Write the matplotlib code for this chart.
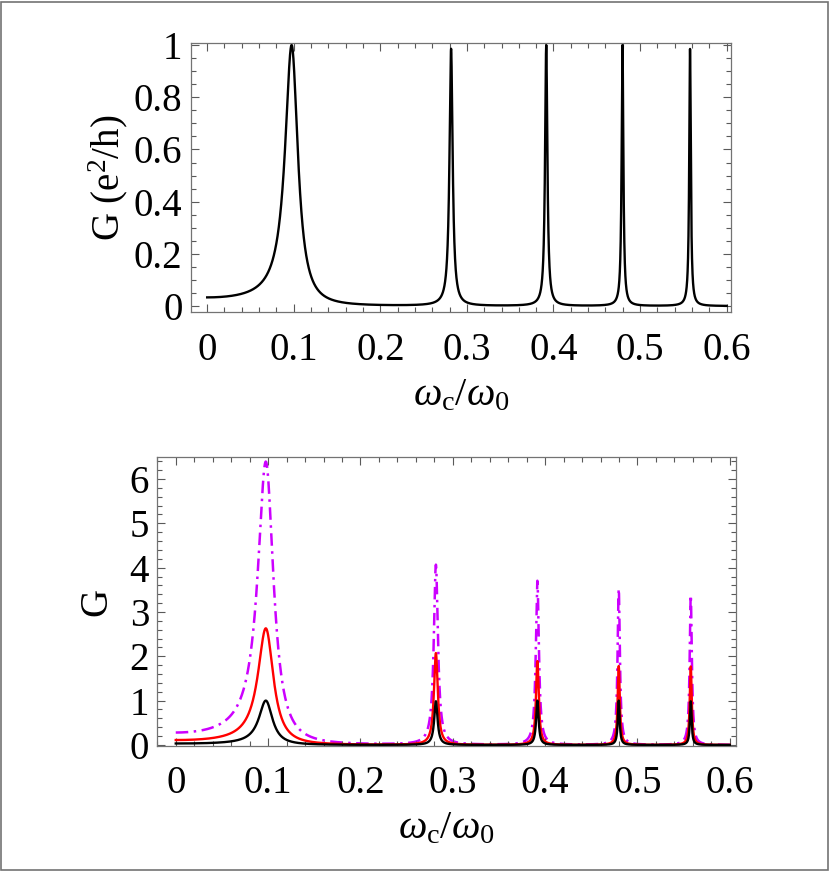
import numpy as np
import matplotlib
matplotlib.use("Agg")
import matplotlib.pyplot as plt
from matplotlib.ticker import MultipleLocator
from matplotlib.patches import Rectangle

plt.rcParams['font.family'] = ['Liberation Serif', 'DejaVu Serif']
plt.rcParams['mathtext.fontset'] = 'custom'
plt.rcParams['mathtext.rm'] = 'Liberation Serif'
plt.rcParams['mathtext.it'] = 'Liberation Serif:italic'

# ---- data ----
peak_centers = [0.0975, 0.2817, 0.3916, 0.4797, 0.5577]   # omega_c / omega_0
black_heights = [1.00, 0.985, 1.00, 1.00, 0.985]
black_widths = [0.0090, 0.0022, 0.0016, 0.0012, 0.0011]
red_heights = [2.63, 2.07, 1.89, 1.78, 1.77]
red_widths = [0.0102, 0.0025, 0.0018, 0.0014, 0.0013]
magenta_heights = [6.39, 4.06, 3.70, 3.52, 3.38]
magenta_widths = [0.0104, 0.0027, 0.0020, 0.0015, 0.0014]

x_ticks = [0, 0.1, 0.2, 0.3, 0.4, 0.5, 0.6]
top_y_ticks = [0, 0.2, 0.4, 0.6, 0.8, 1]
bot_y_ticks = [0, 1, 2, 3, 4, 5, 6]

x = np.linspace(0.0, 0.6, 6001)


def resonances(xv, centers, heights, widths):
    u = xv ** 2
    total = np.zeros_like(xv)
    for c, h, w in zip(centers, heights, widths):
        gu = 2 * c * w
        total += h * gu ** 2 / ((u - c ** 2) ** 2 + gu ** 2)
    return total


g_black = resonances(x, peak_centers, black_heights, black_widths)
g_red = resonances(x, peak_centers, red_heights, red_widths)
g_mag = resonances(x, peak_centers, magenta_heights, magenta_widths)

fig = plt.figure(figsize=(8.30, 8.71), dpi=100)
fig.patches.append(Rectangle((0.001, 0.001), 0.997, 0.997, transform=fig.transFigure,
                             fill=False, edgecolor='0.45', linewidth=1.2))

ax1 = fig.add_axes([0.2298, 0.6414, 0.6509, 0.3095])
ax2 = fig.add_axes([0.1895, 0.1439, 0.6976, 0.3311])

ax1.plot(x, g_black, color='black', lw=1.7)
ax2.plot(x, g_black, color='black', lw=1.7, zorder=3)
ax2.plot(x, g_red, color='red', lw=1.7, zorder=2)
ax2.plot(x, g_mag, color='#cc00ff', lw=1.8, dashes=(5, 2.2, 1, 2.2), zorder=1)

ax1.set_xlim(-0.019, 0.605)
ax1.set_ylim(-0.024, 1.009)
ax2.set_xlim(-0.020, 0.607)
ax2.set_ylim(-0.016, 6.49)

for ax, yt, ymin in ((ax1, top_y_ticks, 0.05), (ax2, bot_y_ticks, 0.2)):
    ax.set_xticks(x_ticks)
    ax.set_xticklabels(['0' if v == 0 else f'{v:g}' for v in x_ticks])
    ax.set_yticks(yt)
    ax.set_yticklabels([f'{v:g}' for v in yt])
    ax.xaxis.set_minor_locator(MultipleLocator(0.02))
    ax.yaxis.set_minor_locator(MultipleLocator(ymin))
    ax.tick_params(which='both', direction='in', top=True, right=True,
                   color='0.35', width=0.8)
    ax.tick_params(which='major', length=6, labelsize=28, pad=6)
    ax.tick_params(which='minor', length=3.5)
    ax.tick_params(axis='x', which='major', pad=14)
    for s in ax.spines.values():
        s.set_color('0.45')
        s.set_linewidth(0.9)
    ax.set_xlabel(r'$\omega_{\rm c}/\omega_0$', fontsize=29, labelpad=6)

ax1.set_ylabel(r'G (e$^2$/h)', fontsize=28, labelpad=3)
ax2.set_ylabel('G', fontsize=28, labelpad=10)

fig.savefig('out.png', dpi=100)
